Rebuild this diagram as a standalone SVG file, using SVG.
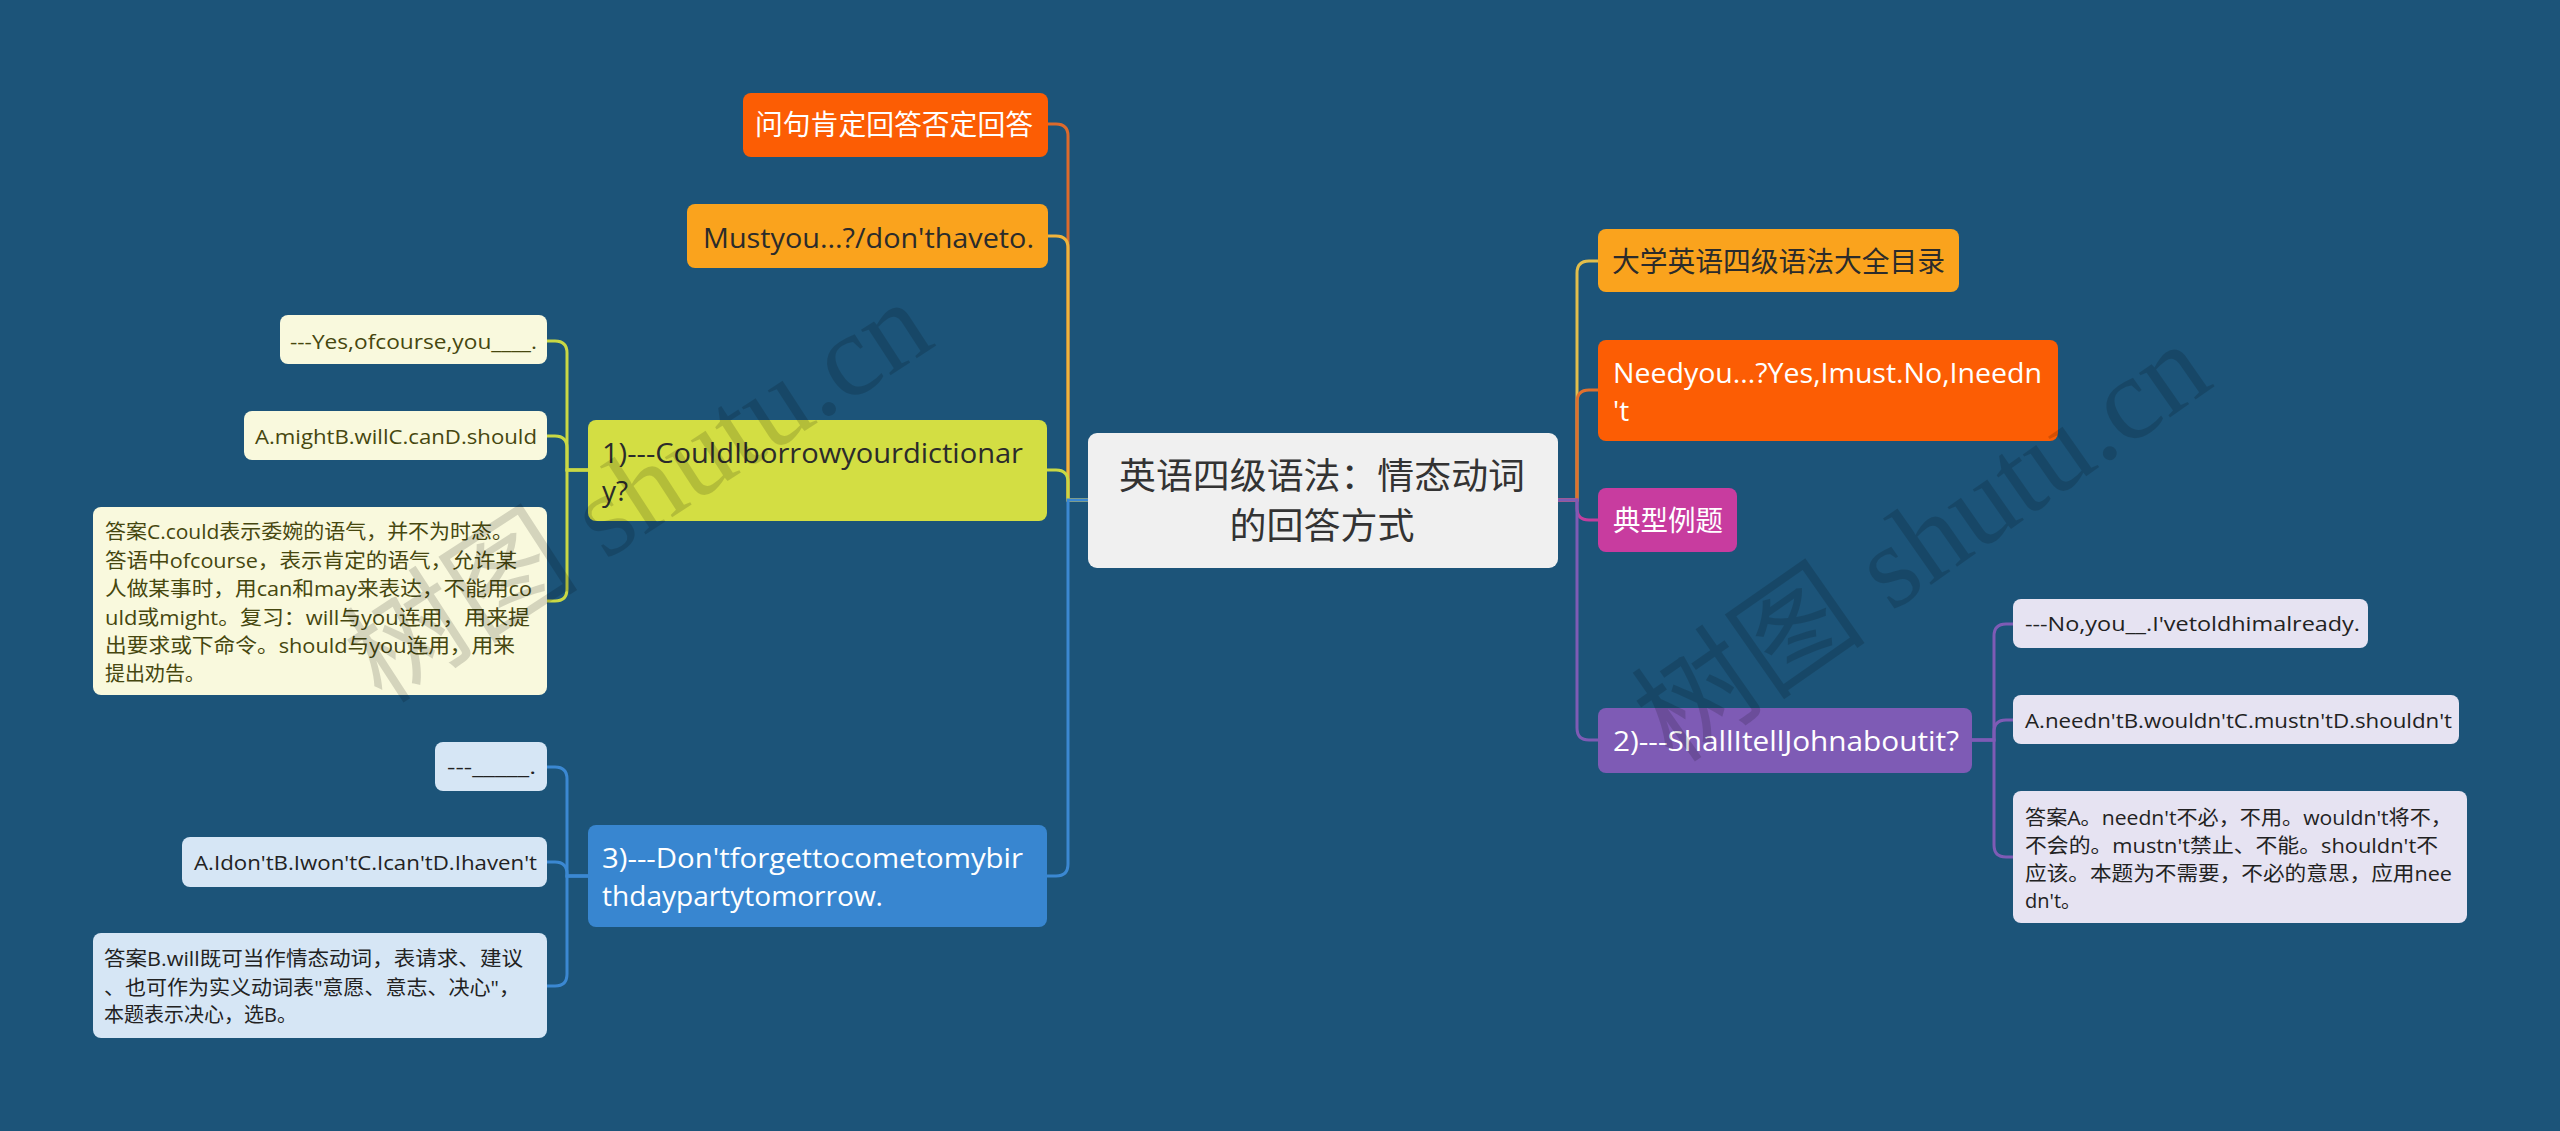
<svg xmlns="http://www.w3.org/2000/svg" width="2560" height="1131" viewBox="0 0 2560 1131">
<style>
text{font-family:"Open Sans","Noto Sans CJK SC",sans-serif;dominant-baseline:central}
.f36{font-size:36px;fill:#333333}
.f28{font-size:28px}
.f20{font-size:20px}
.w{fill:#ffffff}
.d{fill:#2b2b2b}
.ol{fill:#46470f}
.dk{fill:#222222}
.c{fill:none;stroke-width:3;stroke-linecap:round}
.wm{font-family:"Liberation Serif","Noto Sans CJK SC",serif;font-size:118px;fill:#000000;fill-opacity:0.15;dominant-baseline:auto}
</style>
<rect x="0" y="0" width="2560" height="1131" fill="#1c5479"/>
<g id="connectors">
<path class="c" stroke="#dc6a2c" d="M1088,500 H1068 V136 Q1068,124 1056,124 H1048"/>
<path class="c" stroke="#f0b43c" d="M1088,500 H1068 V248 Q1068,236 1056,236 H1048"/>
<path class="c" stroke="#c9d844" d="M1088,500 H1068 V482 Q1068,470 1056,470 H1047"/>
<path class="c" stroke="#3b88d2" d="M1088,500 H1068 V864 Q1068,876 1056,876 H1047"/>
<path class="c" stroke="#e2be4c" d="M1558,500 H1577 V273 Q1577,261 1589,261 H1598"/>
<path class="c" stroke="#e0702e" d="M1558,500 H1577 V402 Q1577,390 1589,390 H1598"/>
<path class="c" stroke="#c23e9e" d="M1558,500 H1577 V508 Q1577,520 1589,520 H1598"/>
<path class="c" stroke="#7e5bb5" d="M1558,500 H1577 V728 Q1577,740 1589,740 H1598"/>
<path class="c" stroke="#c9d844" d="M588,470 H567 V353 Q567,341 555,341 H547"/>
<path class="c" stroke="#c9d844" d="M588,470 H567 V448 Q567,436 555,436 H547"/>
<path class="c" stroke="#c9d844" d="M588,470 H567 V589 Q567,601 555,601 H547"/>
<path class="c" stroke="#3b88d2" d="M588,876 H567 V779 Q567,767 555,767 H547"/>
<path class="c" stroke="#3b88d2" d="M588,876 H567 V874 Q567,862 555,862 H547"/>
<path class="c" stroke="#3b88d2" d="M588,876 H567 V974 Q567,986 555,986 H547"/>
<path class="c" stroke="#7e5bb5" d="M1972,740 H1994 V636 Q1994,624 2006,624 H2014"/>
<path class="c" stroke="#7e5bb5" d="M1972,740 H1994 V732 Q1994,720 2006,720 H2014"/>
<path class="c" stroke="#7e5bb5" d="M1972,740 H1994 V845 Q1994,857 2006,857 H2014"/>
</g>
<g id="root">
<rect x="1088" y="433" width="470" height="135" rx="9" fill="#f0f0f0"/>
<text class="f36" x="1322" y="475" text-anchor="middle" textLength="406" lengthAdjust="spacingAndGlyphs">英语四级语法：情态动词</text>
<text class="f36" x="1322" y="525" text-anchor="middle" textLength="185" lengthAdjust="spacingAndGlyphs">的回答方式</text>
</g>
<g id="n-wenju">
<rect x="743" y="93" width="305" height="64" rx="8" fill="#fc5d04"/>
<text class="f28 w" x="755" y="124" textLength="278" lengthAdjust="spacingAndGlyphs">问句肯定回答否定回答</text>
</g>
<g id="n-must">
<rect x="687" y="204" width="361" height="64" rx="8" fill="#faa31d"/>
<text class="f28 d" x="703" y="237" textLength="331" lengthAdjust="spacingAndGlyphs">Mustyou...?/don'thaveto.</text>
</g>
<g id="n-q1">
<rect x="588" y="420" width="459" height="101" rx="8" fill="#d3de43"/>
<text class="f28 d" x="602" y="452" textLength="421" lengthAdjust="spacingAndGlyphs">1)---CouldIborrowyourdictionar</text>
<text class="f28 d" x="602" y="490">y?</text>
</g>
<g id="n-q1-a">
<rect x="280" y="315" width="267" height="49" rx="8" fill="#f9f9dd"/>
<text class="f20 ol" x="290" y="341" textLength="247" lengthAdjust="spacingAndGlyphs">---Yes,ofcourse,you____.</text>
</g>
<g id="n-q1-b">
<rect x="244" y="411" width="303" height="49" rx="8" fill="#f9f9dd"/>
<text class="f20 ol" x="255" y="436" textLength="282" lengthAdjust="spacingAndGlyphs">A.mightB.willC.canD.should</text>
</g>
<g id="n-q1-c">
<rect x="93" y="507" width="454" height="188" rx="8" fill="#f9f9dd"/>
<text class="f20 ol" x="105" y="531" textLength="408" lengthAdjust="spacingAndGlyphs">答案C.could表示委婉的语气，并不为时态。</text>
<text class="f20 ol" x="105" y="560" textLength="412" lengthAdjust="spacingAndGlyphs">答语中ofcourse，表示肯定的语气，允许某</text>
<text class="f20 ol" x="105" y="588" textLength="427" lengthAdjust="spacingAndGlyphs">人做某事时，用can和may来表达，不能用co</text>
<text class="f20 ol" x="105" y="617" textLength="425" lengthAdjust="spacingAndGlyphs">uld或might。复习：will与you连用，用来提</text>
<text class="f20 ol" x="105" y="645" textLength="410" lengthAdjust="spacingAndGlyphs">出要求或下命令。should与you连用，用来</text>
<text class="f20 ol" x="105" y="673">提出劝告。</text>
</g>
<g id="n-q3">
<rect x="588" y="825" width="459" height="102" rx="8" fill="#3886d0"/>
<text class="f28 w" x="602" y="857" textLength="421" lengthAdjust="spacingAndGlyphs">3)---Don'tforgettocometomybir</text>
<text class="f28 w" x="602" y="895" textLength="281" lengthAdjust="spacingAndGlyphs">thdaypartytomorrow.</text>
</g>
<g id="n-q3-a">
<rect x="435" y="742" width="112" height="49" rx="8" fill="#d6e6f5"/>
<text class="f20 dk" x="447" y="766" textLength="89" lengthAdjust="spacingAndGlyphs">---_____.</text>
</g>
<g id="n-q3-b">
<rect x="182" y="837" width="365" height="50" rx="8" fill="#d6e6f5"/>
<text class="f20 dk" x="194" y="862" textLength="343" lengthAdjust="spacingAndGlyphs">A.Idon'tB.Iwon'tC.Ican'tD.Ihaven't</text>
</g>
<g id="n-q3-c">
<rect x="93" y="933" width="454" height="105" rx="8" fill="#d6e6f5"/>
<text class="f20 dk" x="104" y="958" textLength="419" lengthAdjust="spacingAndGlyphs">答案B.will既可当作情态动词，表请求、建议</text>
<text class="f20 dk" x="104" y="987" textLength="416" lengthAdjust="spacingAndGlyphs">、也可作为实义动词表"意愿、意志、决心"，</text>
<text class="f20 dk" x="104" y="1014">本题表示决心，选B。</text>
</g>
<g id="n-daxue">
<rect x="1598" y="229" width="361" height="63" rx="8" fill="#faa31d"/>
<text class="f28 d" x="1612" y="261" textLength="333" lengthAdjust="spacingAndGlyphs">大学英语四级语法大全目录</text>
</g>
<g id="n-need">
<rect x="1598" y="340" width="460" height="101" rx="8" fill="#fc5d04"/>
<text class="f28 w" x="1613" y="372" textLength="429" lengthAdjust="spacingAndGlyphs">Needyou...?Yes,Imust.No,Ineedn</text>
<text class="f28 w" x="1613" y="410">'t</text>
</g>
<g id="n-dianxing">
<rect x="1598" y="488" width="139" height="64" rx="8" fill="#c83c9f"/>
<text class="f28 w" x="1613" y="520" textLength="110" lengthAdjust="spacingAndGlyphs">典型例题</text>
</g>
<g id="n-q2">
<rect x="1598" y="708" width="374" height="65" rx="8" fill="#7e5bb5"/>
<text class="f28 w" x="1613" y="740" textLength="346" lengthAdjust="spacingAndGlyphs">2)---ShallItellJohnaboutit?</text>
</g>
<g id="n-q2-a">
<rect x="2013" y="599" width="355" height="49" rx="8" fill="#e6e3f2"/>
<text class="f20 dk" x="2025" y="623" textLength="335" lengthAdjust="spacingAndGlyphs">---No,you__.I'vetoldhimalready.</text>
</g>
<g id="n-q2-b">
<rect x="2013" y="695" width="446" height="49" rx="8" fill="#e6e3f2"/>
<text class="f20 dk" x="2025" y="720" textLength="427" lengthAdjust="spacingAndGlyphs">A.needn'tB.wouldn'tC.mustn'tD.shouldn't</text>
</g>
<g id="n-q2-c">
<rect x="2013" y="791" width="454" height="132" rx="8" fill="#e6e3f2"/>
<text class="f20 dk" x="2025" y="817" textLength="427" lengthAdjust="spacingAndGlyphs">答案A。needn't不必，不用。wouldn't将不，</text>
<text class="f20 dk" x="2025" y="845" textLength="413" lengthAdjust="spacingAndGlyphs">不会的。mustn't禁止、不能。shouldn't不</text>
<text class="f20 dk" x="2025" y="873" textLength="427" lengthAdjust="spacingAndGlyphs">应该。本题为不需要，不必的意思，应用nee</text>
<text class="f20 dk" x="2025" y="900">dn't。</text>
</g>
<g id="watermarks">
<text class="wm" x="0" y="0" text-anchor="middle" transform="translate(660,525) rotate(-33)">树图 shutu.cn</text>
<text class="wm" x="0" y="0" text-anchor="middle" transform="translate(1945,575) rotate(-35)">树图 shutu.cn</text>
</g>
</svg>
